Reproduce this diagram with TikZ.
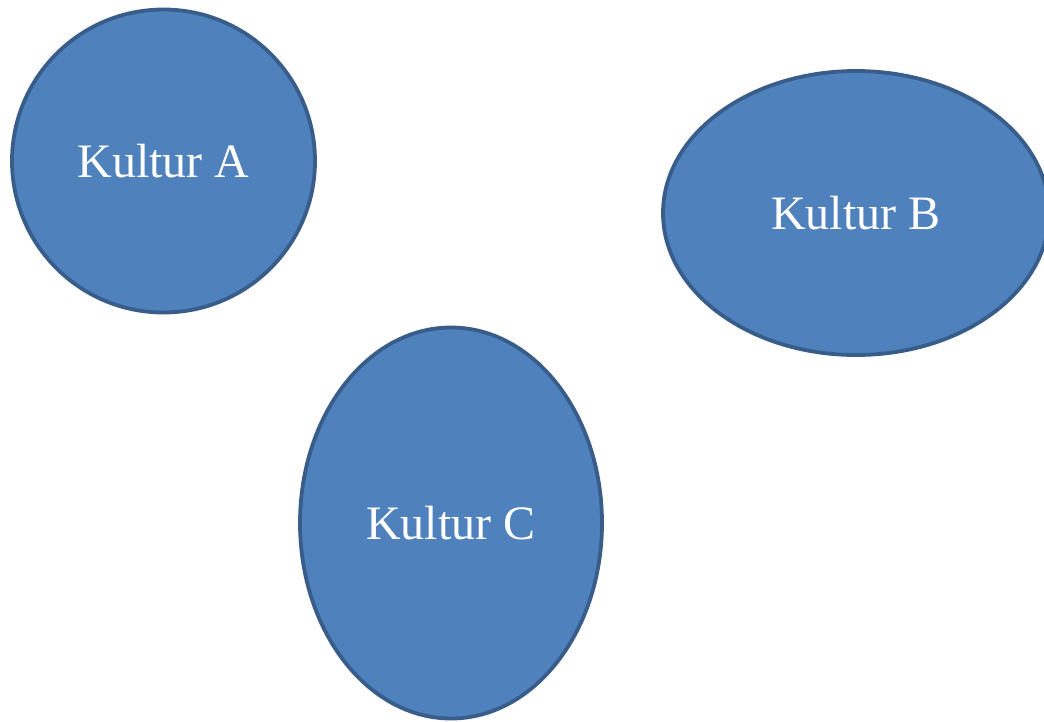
\documentclass[tikz,border=0pt]{standalone}
\usepackage{fontspec}
\setmainfont{Liberation Serif}
\usetikzlibrary{shapes.geometric}
\definecolor{blobfill}{HTML}{4F81BD}
\definecolor{blobline}{HTML}{385D8A}
\begin{document}
\begin{tikzpicture}[x=1pt,y=-1pt,
  blob/.style={ellipse, draw=blobline, fill=blobfill, line width=3.8pt,
    inner sep=0pt, text=white, font=\fontsize{48}{56}\selectfont}]
\useasboundingbox (0,0) rectangle (1044,721);
\clip (0,0) rectangle (1044,721);
% three culture blobs, label set in each
\node[blob, minimum width=303pt, minimum height=303pt] (a) at (163.5,161) {Kultur A};
\node[blob, minimum width=386pt, minimum height=284pt] (b) at (856,213) {Kultur B};
\node[blob, minimum width=302pt, minimum height=391pt] (c) at (451,523) {Kultur C};
\end{tikzpicture}
\end{document}
